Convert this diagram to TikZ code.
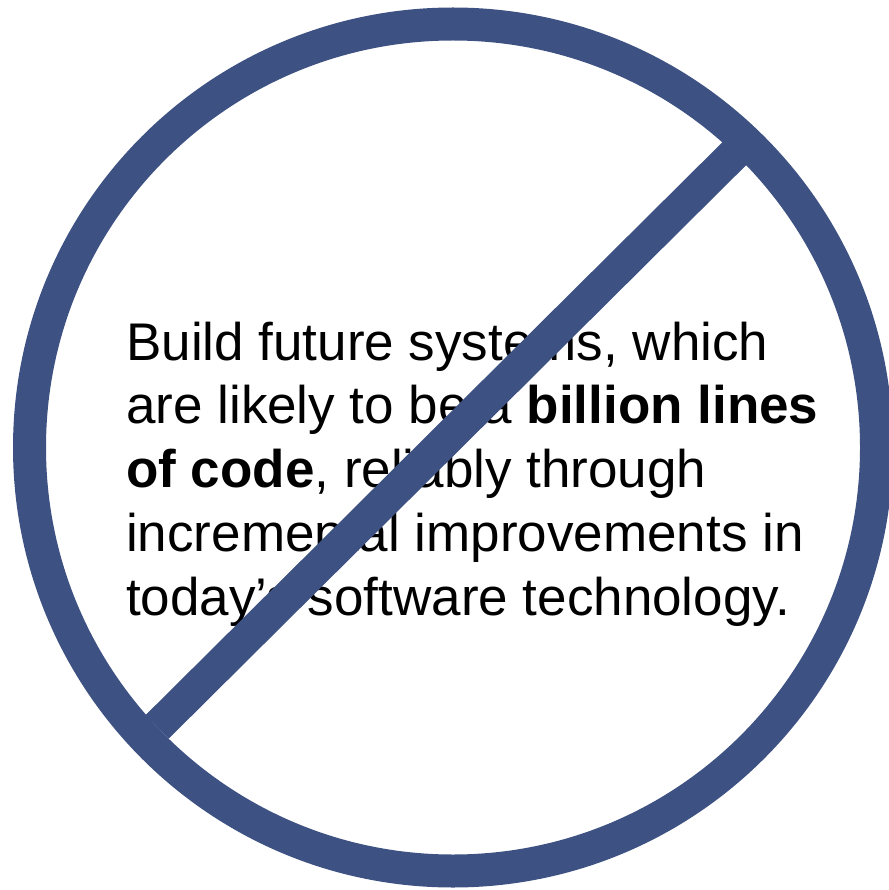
\documentclass[tikz,border=0pt]{standalone}
\usepackage{fontspec}
\setmainfont{Liberation Sans}
\definecolor{ringblue}{RGB}{61,81,131}
\begin{document}
\begin{tikzpicture}[x=1pt,y=-1pt,
  ban/.style={draw=ringblue,line width=33pt}]
\useasboundingbox (0,0) rectangle (888,890);
\node[anchor=base west,inner sep=0pt,align=left,font=\fontsize{53}{63.7}\selectfont] (claim) at (126,615)
  {Build future systems, which\\
   are likely to be a \textbf{billion lines}\\
   \textbf{of code}, reliably through\\
   incremental improvements in\\
   today’s software technology.};
\draw[ban] (453,447.5) circle (423.5);
\draw[ban] (157,727) -- (738,150);
\end{tikzpicture}
\end{document}
